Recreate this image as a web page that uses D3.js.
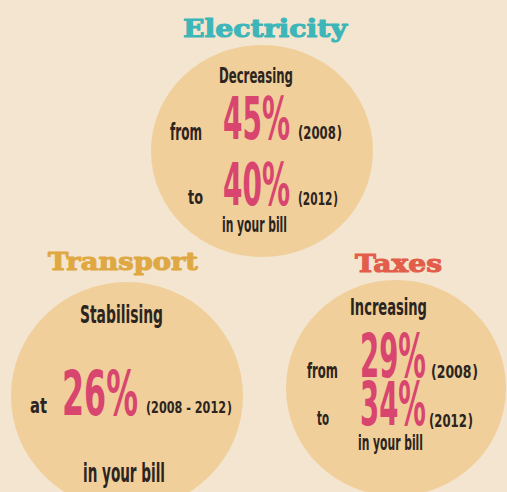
<!DOCTYPE html>
<html><head><meta charset="utf-8">
<script src="https://cdn.jsdelivr.net/npm/d3@7"></script>
<style>html,body{margin:0;padding:0;background:#f3e5cf;}svg{display:block;}</style>
</head><body>
<svg id="c" width="507" height="492"></svg>
<script>
// ---- data ----
const categories = ["Electricity", "Transport", "Taxes"];
const trends = ["Decreasing", "Stabilising", "Increasing"];
const value2008 = [45, 26, 29];
const value2012 = [40, 26, 34];
const yearLabels = ["2008", "2012", "2008 - 2012"];
const footer = "in your bill";

// ---- layout / style ----
const W = 507, H = 492;
const svg = d3.select("#c");
svg.append("rect").attr("width", W).attr("height", H).attr("fill", "#f3e5cf");

const titleColor = ["#3cb6b8", "#dfa842", "#e35d4b"];
const circ = [
  {cx: 262, cy: 151, rx: 111, ry: 106},
  {cx: 127, cy: 396, rx: 116, ry: 114},
  {cx: 396, cy: 388, rx: 110, ry: 108}
];
const titles = [
  {x: 183, y: 37, w: 164},
  {x: 48, y: 270, w: 150},
  {x: 355, y: 272, w: 87}
];
const cond = "'DejaVu Sans Condensed','DejaVu Sans',sans-serif";
const dark = "#2b2420", pink = "#d8456f";

function mk(g, s, size, color, family, weight) {
  const t = g.append("text").attr("x", 0).attr("y", 0)
    .attr("font-family", family || cond).attr("font-weight", weight || "bold")
    .attr("font-size", size).attr("fill", color || dark);
  t.node().textContent = s;
  return t;
}

// text placed at (x, y) baseline-left, squeezed horizontally to width w
function txt(x, y, s, size, w, color, family, weight) {
  const g = svg.append("g");
  const t = mk(g, s, size, color, family, weight);
  const nat = t.node().getComputedTextLength() || w;
  const k = w ? w / nat : 1;
  g.attr("transform", `translate(${x},${y}) scale(${k},1)`);
  return t;
}

// year label in brackets; closing bracket drawn as a mirrored opening one
function year(x, y, s, size, w) {
  const g = svg.append("g");
  const t1 = mk(g, "(" + s, size);
  const L1 = t1.node().getComputedTextLength();
  const t2 = mk(g, "(", size);
  const Lp = t2.node().getComputedTextLength();
  t2.attr("transform", `translate(${L1 + Lp + 1},0) scale(-1,1)`);
  const k = w / (L1 + Lp + 1);
  g.attr("transform", `translate(${x},${y}) scale(${k},1)`);
}

// circles
svg.selectAll("ellipse.b").data(circ).join("ellipse")
  .attr("cx", d => d.cx).attr("cy", d => d.cy).attr("rx", d => d.rx).attr("ry", d => d.ry)
  .attr("fill", "#f0cf9a");

// titles
categories.forEach((c, i) => {
  const t = titles[i];
  txt(t.x, t.y, c, 25, t.w, titleColor[i], "'DejaVu Serif',serif", "bold")
    .attr("stroke", titleColor[i]).attr("stroke-width", 1.1).attr("stroke-linejoin", "round");
});

const pct = v => v + "%";

// Electricity
txt(219, 83, trends[0], 22, 74);
txt(170, 140, "from", 23, 32);
txt(223, 139, pct(value2008[0]), 59, 67, pink);
year(298, 139, yearLabels[0], 17, 44);
txt(188, 204, "to", 20, 15);
txt(223, 205, pct(value2012[0]), 59, 67, pink);
year(298, 205, yearLabels[1], 17, 40);
txt(222, 232, footer, 21, 65);

// Transport
txt(80, 323, trends[1], 25, 83);
txt(30, 413, "at", 22, 17);
txt(62, 415, pct(value2008[1]), 62, 76, pink);
year(146, 413, yearLabels[2], 16, 86);
txt(83, 482, footer, 27, 82);

// Taxes
txt(350, 315, trends[2], 23, 77);
txt(307, 378, "from", 22, 31);
txt(360, 377, pct(value2008[2]), 61, 66, pink);
year(431, 378, yearLabels[0], 17, 47);
txt(317, 425, "to", 20, 12);
txt(360, 425, pct(value2012[2]), 61, 66, pink);
year(429, 427, yearLabels[1], 17, 44);
txt(358, 450, footer, 21, 65);
</script>
</body></html>
